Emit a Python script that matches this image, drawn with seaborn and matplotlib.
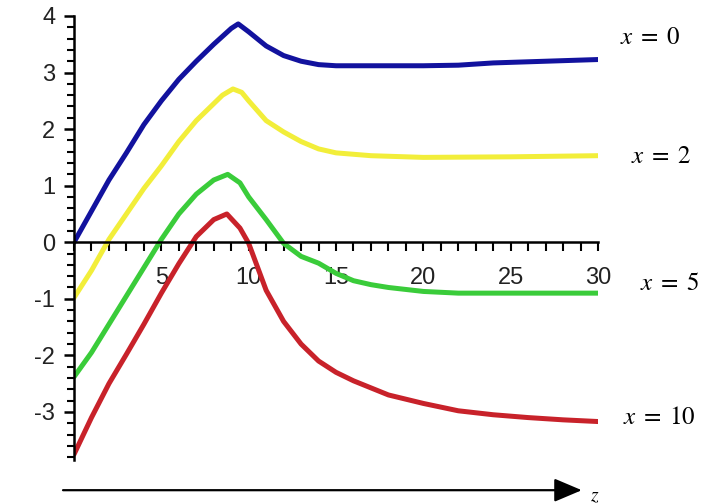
import numpy as np
import pandas as pd
import matplotlib
matplotlib.use("Agg")
import matplotlib.pyplot as plt
import seaborn as sns

# --- dati ---
series_names = ["x = 0", "x = 2", "x = 5", "x = 10"]
label_texts = [r"$x\;=\;0$", r"$x\;=\;2$", r"$x\;=\;5$", r"$x\;=\;10$"]

z_x0 = [0, 1, 2, 3, 4, 5, 6, 7, 8, 9, 9.4, 10, 11, 12, 13, 14, 15, 17, 20, 22, 24, 26, 28, 30]
v_x0 = [0, 0.55, 1.1, 1.58, 2.08, 2.5, 2.88, 3.2, 3.5, 3.78, 3.86, 3.72, 3.47, 3.3, 3.2, 3.14,
        3.12, 3.12, 3.12, 3.13, 3.17, 3.19, 3.21, 3.23]

z_x2 = [0, 1, 2, 3, 4, 5, 6, 7, 8, 8.5, 9.1, 9.6, 10, 11, 12, 13, 14, 15, 17, 20, 25, 30]
v_x2 = [-0.98, -0.5, 0.05, 0.5, 0.95, 1.35, 1.78, 2.15, 2.45, 2.6, 2.71, 2.65, 2.5, 2.15, 1.95,
        1.78, 1.65, 1.58, 1.53, 1.5, 1.51, 1.53]

z_x5 = [0, 1, 2, 3, 4, 5, 6, 7, 8, 8.8, 9.5, 10, 11, 12, 13, 14, 15, 16, 17, 18, 20, 22, 25, 30]
v_x5 = [-2.38, -1.95, -1.45, -0.95, -0.45, 0.05, 0.5, 0.85, 1.1, 1.2, 1.05, 0.8, 0.4, -0.02,
        -0.25, -0.37, -0.55, -0.68, -0.75, -0.8, -0.87, -0.9, -0.9, -0.9]

z_x10 = [0, 1, 2, 3, 4, 5, 6, 7, 8, 8.75, 9.5, 10, 11, 12, 13, 14, 15, 16, 18, 20, 22, 24, 26, 28, 30]
v_x10 = [-3.75, -3.1, -2.5, -1.98, -1.45, -0.9, -0.38, 0.1, 0.4, 0.5, 0.25, -0.02, -0.85, -1.4,
         -1.8, -2.1, -2.3, -2.45, -2.7, -2.85, -2.98, -3.05, -3.1, -3.14, -3.17]

x_major = [5, 10, 15, 20, 25, 30]
y_major = [-3, -2, -1, 0, 1, 2, 3, 4]

colors = ["#12129e", "#f2ee3a", "#3acc3a", "#c8222a"]
# spostamento delle etichette rispetto alla fine della curva (punti)
label_offsets = [(16, 16), (24, 0), (30, 7), (18, 3)]

frames = []
for name, z, v in zip(series_names, [z_x0, z_x2, z_x5, z_x10], [v_x0, v_x2, v_x5, v_x10]):
    frames.append(pd.DataFrame({"z": z, "v": v, "serie": name}))
df = pd.concat(frames, ignore_index=True)

sns.set_style("white")
plt.rcParams["font.family"] = ["Liberation Sans Narrow", "Liberation Sans", "DejaVu Sans"]
plt.rcParams["mathtext.fontset"] = "stix"

fig = plt.figure(figsize=(7.2, 5.04), dpi=100)
ax = fig.add_axes([0.1028, 0.0873, 0.7278, 0.881])

sns.lineplot(data=df, x="z", y="v", hue="serie", palette=dict(zip(series_names, colors)),
             linewidth=3.6, legend=False, sort=False, estimator=None, ax=ax)

ax.set_xlim(0, 30)
ax.set_ylim(-3.85, 4.0)

# assi che passano per l'origine (stile Maple)
ax.spines["left"].set_position(("data", 0))
ax.spines["bottom"].set_position(("data", 0))
ax.spines["top"].set_visible(False)
ax.spines["right"].set_visible(False)
for s in ["left", "bottom"]:
    ax.spines[s].set_linewidth(1.8)
    ax.spines[s].set_color("black")

ax.set_xticks(x_major)
ax.set_xticklabels([str(t) for t in x_major])
ax.set_xticks(np.arange(0, 31, 1), minor=True)
ax.set_yticks(y_major)
ax.set_yticklabels([str(t) for t in y_major])
ax.set_yticks(np.arange(-3.8, 4.01, 0.2), minor=True)

ax.tick_params(axis="x", which="both", bottom=True, direction="out", length=6.5, width=1.5,
               color="black", labelsize=17, pad=11, labelcolor="#222222")
ax.tick_params(axis="y", which="major", left=True, direction="out", length=7.5, width=1.8,
               color="black", labelsize=17, pad=6, labelcolor="#222222")
ax.tick_params(axis="y", which="minor", left=True, direction="out", length=5, width=1.5,
               color="black")
ax.set_xlabel("")
ax.set_ylabel("")

# etichette delle curve
for text, z, v, off in zip(label_texts, [z_x0, z_x2, z_x5, z_x10], [v_x0, v_x2, v_x5, v_x10], label_offsets):
    ax.annotate(text, xy=(z[-1], v[-1]), xytext=off, textcoords="offset points",
                ha="left", va="center", fontsize=18, color="black", annotation_clip=False)

# freccia dell'asse z in basso
ax.annotate("", xy=(0.969, -0.068), xytext=(-0.021, -0.068), xycoords="axes fraction",
            arrowprops=dict(arrowstyle="-|>,head_length=0.85,head_width=0.36",
                            mutation_scale=20, color="black", lw=1.6, shrinkA=0, shrinkB=0),
            annotation_clip=False)
ax.text(0.985, -0.082, r"$z$", transform=ax.transAxes, ha="left", va="center",
        fontsize=14, color="black")

fig.savefig("out.png", dpi=100, facecolor="white")
